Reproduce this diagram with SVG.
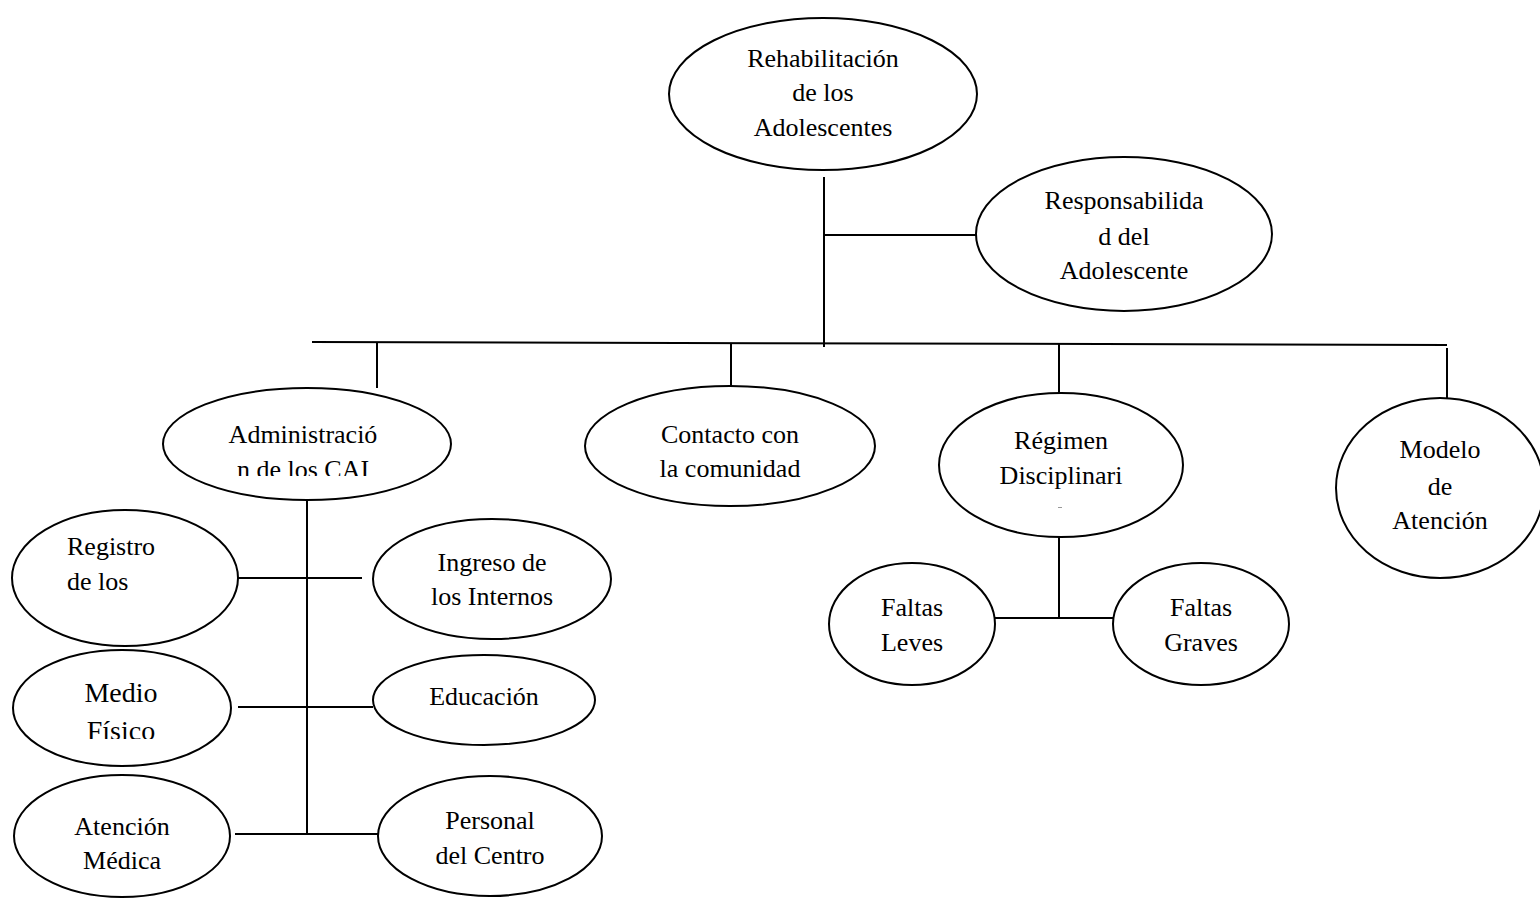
<svg xmlns="http://www.w3.org/2000/svg" width="1540" height="899" viewBox="0 0 1540 899">
<style>
.n{fill:#fff;stroke:#000;stroke-width:2}
.t{font-family:'Liberation Serif','Times New Roman',Times,'DejaVu Serif',serif;font-size:26px;fill:#000;text-anchor:middle}
.c line{stroke:#000;stroke-width:2}
</style>
<defs>
<clipPath id="clipAdm"><rect x="150" y="380" width="320" height="96"/></clipPath>
<clipPath id="clipMed"><rect x="0" y="640" width="250" height="99"/></clipPath>
</defs>
<rect width="1540" height="899" fill="#fff"/>
<g class="c" id="connectors">
<line x1="824" y1="177" x2="824" y2="347"/>
<line x1="824" y1="235" x2="976" y2="235"/>
<line x1="312" y1="342" x2="1447" y2="345"/>
<line x1="377" y1="342" x2="377" y2="388"/>
<line x1="731" y1="344" x2="731" y2="386"/>
<line x1="1059" y1="343" x2="1059" y2="393"/>
<line x1="1447" y1="348" x2="1447" y2="398"/>
<line x1="307" y1="500" x2="307" y2="835"/>
<line x1="238" y1="578" x2="362" y2="578"/>
<line x1="238" y1="707" x2="373" y2="707"/>
<line x1="235" y1="834" x2="379" y2="834"/>
<line x1="1059" y1="537" x2="1059" y2="619"/>
<line x1="995" y1="618" x2="1113" y2="618"/>
</g>
<g id="rehab"><ellipse class="n" cx="823" cy="94" rx="154" ry="76"/>
<text class="t" x="823" y="67">Rehabilitación</text><text class="t" x="823" y="101">de los</text><text class="t" x="823" y="136">Adolescentes</text></g>
<g id="resp"><ellipse class="n" cx="1124" cy="234" rx="148" ry="77"/>
<text class="t" x="1124" y="209">Responsabilida</text><text class="t" x="1124" y="245">d del</text><text class="t" x="1124" y="279">Adolescente</text></g>
<g id="admin"><ellipse class="n" cx="307" cy="444" rx="144" ry="56"/>
<g clip-path="url(#clipAdm)"><text class="t" x="303" y="443">Administració</text><text class="t" x="303" y="478">n de los CAI</text></g></g>
<g id="contacto"><ellipse class="n" cx="730" cy="446" rx="145" ry="60"/>
<text class="t" x="730" y="443">Contacto con</text><text class="t" x="730" y="477">la comunidad</text></g>
<g id="regimen"><ellipse class="n" cx="1061" cy="465" rx="122" ry="72"/>
<text class="t" x="1061" y="449">Régimen</text><text class="t" x="1061" y="484">Disciplinari</text>
<rect x="1058" y="507" width="4" height="1" fill="#999"/></g>
<g id="modelo"><ellipse class="n" cx="1440" cy="488" rx="104" ry="90"/>
<text class="t" x="1440" y="458">Modelo</text><text class="t" x="1440" y="495">de</text><text class="t" x="1440" y="529">Atención</text></g>
<g id="registro"><ellipse class="n" cx="125" cy="578" rx="113" ry="68"/>
<text class="t" x="67" y="555" style="text-anchor:start">Registro</text><text class="t" x="67" y="590" style="text-anchor:start">de los</text></g>
<g id="ingreso"><ellipse class="n" cx="492" cy="579" rx="119" ry="60"/>
<text class="t" x="492" y="571">Ingreso de</text><text class="t" x="492" y="605">los Internos</text></g>
<g id="medio"><ellipse class="n" cx="122" cy="708" rx="109" ry="58"/>
<g clip-path="url(#clipMed)"><text class="t" x="121" y="702" style="font-size:28px">Medio</text><text class="t" x="121" y="740" style="font-size:28px">Físico</text></g></g>
<g id="educacion"><ellipse class="n" cx="484" cy="700" rx="111" ry="45"/>
<text class="t" x="484" y="705">Educación</text></g>
<g id="atencion"><ellipse class="n" cx="122" cy="836" rx="108" ry="61"/>
<text class="t" x="122" y="835">Atención</text><text class="t" x="122" y="869">Médica</text></g>
<g id="personal"><ellipse class="n" cx="490" cy="836" rx="112" ry="60"/>
<text class="t" x="490" y="829">Personal</text><text class="t" x="490" y="864">del Centro</text></g>
<g id="leves"><ellipse class="n" cx="912" cy="624" rx="83" ry="61"/>
<text class="t" x="912" y="616">Faltas</text><text class="t" x="912" y="651">Leves</text></g>
<g id="graves"><ellipse class="n" cx="1201" cy="624" rx="88" ry="61"/>
<text class="t" x="1201" y="616">Faltas</text><text class="t" x="1201" y="651">Graves</text></g>
</svg>
